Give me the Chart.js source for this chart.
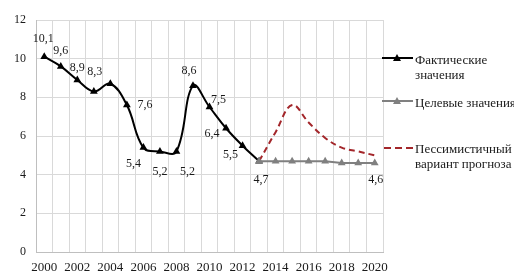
<!DOCTYPE html>
<html>
<head>
<meta charset="utf-8">
<script src="https://cdn.jsdelivr.net/npm/chart.js@4/dist/chart.umd.min.js"></script>
<style>
  body { margin: 0; background: #fff; }
  #wrap { position: relative; width: 514px; height: 271px; overflow: hidden; font-family: "Liberation Serif", serif; color: #1a1a1a; }
  #myChart { position: absolute; left: 0; top: 0; }
  .leg { position: absolute; left: 382px; font-size: 13px; line-height: 15px; white-space: nowrap; }
  .leg svg { position: absolute; left: 0; }
  .leg .txt { position: absolute; left: 33px; top: 0; }
</style>
</head>
<body>
<div id="wrap">
  <canvas id="myChart" width="514" height="271"></canvas>
  <div class="leg" style="top:52px">
    <svg width="34" height="16" style="top:0"><line x1="0" y1="6" x2="31" y2="6" stroke="#000" stroke-width="2"/><polygon points="15,2 19,9 11,9" fill="#000"/></svg>
    <div class="txt">Фактические<br>значения</div>
  </div>
  <div class="leg" style="top:95px">
    <svg width="34" height="16" style="top:0"><line x1="0" y1="6" x2="31" y2="6" stroke="#808080" stroke-width="2"/><polygon points="15,2 19,9 11,9" fill="#808080"/></svg>
    <div class="txt">Целевые значения</div>
  </div>
  <div class="leg" style="top:141px">
    <svg width="34" height="16" style="top:0"><line x1="2" y1="7" x2="31" y2="7" stroke="#a3262a" stroke-width="2" stroke-dasharray="7,4"/></svg>
    <div class="txt">Пессимистичный<br>вариант прогноза</div>
  </div>
</div>
<script>
const years = ['2000','2001','2002','2003','2004','2005','2006','2007','2008','2009','2010',
               '2011','2012','2013','2014','2015','2016','2017','2018','2019','2020'];
// 2000-2013
const actual = [10.1, 9.6, 8.9, 8.3, 8.7, 7.6, 5.4, 5.2, 5.2, 8.6, 7.5, 6.4, 5.5, 4.7];
// 2013-2020
const target = [4.7, 4.7, 4.7, 4.7, 4.7, 4.6, 4.6, 4.6];
const pessimistic = [4.7, 6.2, 7.6, 6.7, 5.9, 5.4, 5.2, 5.0];
const forecastStart = 13;

// [dataset, point index, dx, dy] for value labels
const labelSpots = [
    [2, 0, -1, -18], [2, 1, 0, -16], [2, 2, 0, -12], [2, 3, 1, -20],
    [2, 5, 18, 0], [2, 6, -10, 16], [2, 7, 0, 20], [2, 8, 11, 20],
    [2, 9, -4, -15], [2, 10, 9, -7], [2, 11, -14, 6], [2, 12, -12, 9],
    [2, 13, 2, 19], [0, 20, 1, 17]
];

function place(arr, start) {
    return years.map((_, i) => (i >= start && i - start < arr.length) ? arr[i - start] : null);
}

const valueLabels = {
    id: 'valueLabels',
    afterDatasetsDraw(chart) {
        const c = chart.ctx;
        c.save();
        c.font = '12px "Liberation Serif"';
        c.fillStyle = '#1a1a1a';
        c.textAlign = 'center';
        c.textBaseline = 'middle';
        for (let s of labelSpots) {
            let ds = chart.data.datasets[s[0]];
            let pt = chart.getDatasetMeta(s[0]).data[s[1]];
            let txt = ds.data[s[1]].toFixed(1).replace('.', ',');
            c.fillText(txt, pt.x + s[2], pt.y + s[3]);
        }
        c.restore();
    }
};

const ctx = document.getElementById('myChart');

let chart = new Chart(ctx, {
    type: 'line',
    data: {
        labels: years,
        datasets: [
            {
                label: 'Целевые значения',
                data: place(target, forecastStart),
                borderColor: '#808080',
                backgroundColor: '#808080',
                pointStyle: 'triangle',
                pointRadius: 4.5,
                pointBorderWidth: 0,
                borderWidth: 2,
                tension: 0
            },
            {
                label: 'Пессимистичный вариант прогноза',
                data: place(pessimistic, forecastStart),
                borderColor: '#a3262a',
                borderDash: [6, 4],
                borderWidth: 2,
                pointRadius: 0,
                tension: 0.4
            },
            {
                label: 'Фактические значения',
                data: place(actual, 0),
                borderColor: '#000',
                backgroundColor: '#000',
                pointStyle: 'triangle',
                pointRadius: 4.5,
                pointBorderWidth: 0,
                borderWidth: 2,
                tension: 0.4
            }
        ]
    },
    options: {
        responsive: false,
        animation: false,
        layout: { padding: { left: 0, right: 131, top: 20, bottom: 0 } },
        plugins: { legend: { display: false }, tooltip: { enabled: false } },
        scales: {
            x: {
                offset: true,
                grid: { offset: true, color: '#d9d9d9', drawTicks: false },
                border: { color: '#bfbfbf' },
                ticks: {
                    autoSkip: false,
                    maxRotation: 0,
                    padding: 8,
                    color: '#1a1a1a',
                    font: { family: 'Liberation Serif', size: 13 },
                    callback: (v, i) => i % 2 === 0 ? years[i] : ''
                },
                afterFit: s => { s.height = 19; }
            },
            y: {
                min: 0,
                max: 12,
                grid: { color: '#d9d9d9', drawTicks: false },
                border: { color: '#bfbfbf' },
                ticks: {
                    stepSize: 2,
                    padding: 10,
                    color: '#1a1a1a',
                    font: { family: 'Liberation Serif', size: 12 }
                },
                afterFit: s => { s.width = 36; }
            }
        }
    },
    plugins: [valueLabels]
});
</script>
</body>
</html>
